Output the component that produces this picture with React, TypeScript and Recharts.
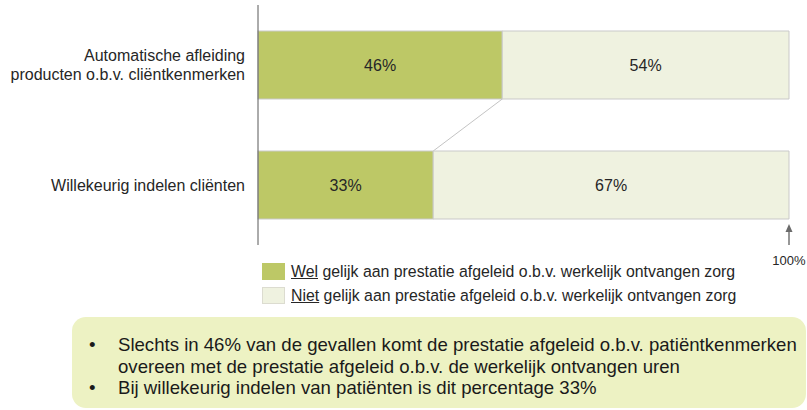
import React from "react";
import { Bar, BarChart, LabelList, XAxis, YAxis } from "recharts";

const categories = [
	"Automatische afleiding\nproducten o.b.v. cliëntkenmerken",
	"Willekeurig indelen cliënten",
];
const welValues = [46, 33];
const nietValues = [54, 67];
const axisTicks = [100];
const legendKeys = ["Wel", "Niet"];
const legendRest = " gelijk aan prestatie afgeleid o.b.v. werkelijk ontvangen zorg";
const bullets = [
	"Slechts in 46% van de gevallen komt de prestatie afgeleid o.b.v. patiëntkenmerken overeen met de prestatie afgeleid o.b.v. de werkelijk ontvangen uren",
	"Bij willekeurig indelen van patiënten is dit percentage 33%",
];

const FONT = '"Liberation Sans", Arial, sans-serif';
const GREEN = "#bdc866";
const LIGHT = "#eff2e0";
const BORDER = "#c9c9c9";

const CHART_H = 270;
const MARGIN = { top: 5, right: 18, left: 0, bottom: 0 };
const XAXIS_H = 25;
const STEP = (CHART_H - MARGIN.top - MARGIN.bottom - XAXIS_H) / categories.length;

const data = categories.map((name, i) => ({
	name,
	wel: welValues[i],
	niet: nietValues[i],
}));

function CategoryTick({ x, y, payload }: any) {
	const lines = String(payload.value).split("\n");
	const lh = 19;
	const start = y - ((lines.length - 1) * lh) / 2 + 5.7;
	return (
		<text x={x} y={start} textAnchor="end" fontSize={16} fill="#262626" fontFamily={FONT}>
			{lines.map((l, i) => (
				<tspan key={i} x={x} y={start + i * lh}>
					{l}
				</tspan>
			))}
		</text>
	);
}

function ArrowTick({ x, y, payload }: any) {
	return (
		<g>
			<line x1={x} y1={y - 15} x2={x} y2={y} stroke="#6b6b6b" strokeWidth={1.4} />
			<path d={`M${x - 3.5},${y - 13} L${x},${y - 21} L${x + 3.5},${y - 13} Z`} fill="#6b6b6b" />
			<text x={x} y={y + 20} textAnchor="middle" fontSize={13} fill="#262626" fontFamily={FONT}>
				{payload.value}%
			</text>
		</g>
	);
}

function WelShape(props: any) {
	const { x, y, width, height, index } = props;
	const next = welValues[index + 1];
	return (
		<g>
			<rect x={x} y={y} width={width} height={height} fill={GREEN} stroke={BORDER} strokeWidth={1} />
			{next !== undefined && (
				<line
					x1={x + width}
					y1={y + height}
					x2={x + (width * next) / welValues[index]}
					y2={y + STEP}
					stroke="#c4c4c4"
					strokeWidth={1}
				/>
			)}
		</g>
	);
}

export default function App() {
	return (
		<div style={{ position: "absolute", left: 0, top: 0, width: 807, height: 410, background: "#fff", fontFamily: FONT }}>
			<BarChart layout="vertical" width={807} height={CHART_H} data={data} margin={MARGIN}>
				<XAxis
					type="number"
					domain={[0, 100]}
					ticks={axisTicks}
					axisLine={false}
					tickLine={false}
					tickSize={0}
					tickMargin={0}
					height={XAXIS_H}
					tick={<ArrowTick />}
				/>
				<YAxis
					type="category"
					dataKey="name"
					width={258}
					axisLine={{ stroke: "#595959" }}
					tickLine={false}
					tickSize={0}
					tickMargin={13}
					tick={<CategoryTick />}
				/>
				<Bar dataKey="wel" stackId="a" barSize={68} fill={GREEN} shape={<WelShape />} isAnimationActive={false}>
					<LabelList dataKey="wel" position="center" formatter={(v: any) => `${v}%`} fontSize={16} fill="#262626" fontFamily={FONT} />
				</Bar>
				<Bar dataKey="niet" stackId="a" barSize={68} fill={LIGHT} stroke={BORDER} strokeWidth={1} isAnimationActive={false}>
					<LabelList dataKey="niet" position="center" formatter={(v: any) => `${v}%`} fontSize={16} fill="#262626" fontFamily={FONT} />
				</Bar>
			</BarChart>
			<div style={{ position: "absolute", left: 262, top: 259.5 }}>
				{legendKeys.map((k, i) => (
					<div key={k} style={{ display: "flex", alignItems: "center", height: 24, fontSize: 15.85, color: "#262626", whiteSpace: "nowrap" }}>
						<span
							style={{
								display: "inline-block",
								width: 23,
								height: 17,
								boxSizing: "border-box",
								background: i === 0 ? GREEN : LIGHT,
								border: i === 0 ? "none" : "1px solid #dcdcd0",
								marginRight: 6,
							}}
						/>
						<span>
							<u>{k}</u>
							{legendRest}
						</span>
					</div>
				))}
			</div>
			<div
				style={{
					position: "absolute",
					left: 72,
					top: 317,
					width: 734,
					height: 91,
					background: "#edf2c3",
					borderRadius: 14,
					boxSizing: "border-box",
					paddingTop: 17,
					fontSize: 18.6,
					lineHeight: "21.5px",
					color: "#1a1a1a",
				}}
			>
				{bullets.map((b, i) => (
					<div key={i} style={{ position: "relative", paddingLeft: 46, paddingRight: 4 }}>
						<span style={{ position: "absolute", left: 17 }}>•</span>
						{b}
					</div>
				))}
			</div>
		</div>
	);
}
